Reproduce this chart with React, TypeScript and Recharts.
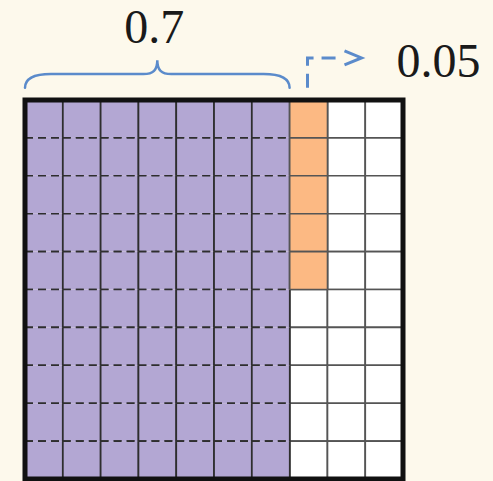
import React from "react";
import { BarChart, Bar, XAxis, YAxis, ReferenceArea } from "recharts";

// 10 x 10 hundredths grid: 0.7 (seven full columns) + 0.05 (five cells)
const columns = ["c1", "c2", "c3", "c4", "c5", "c6", "c7", "c8", "c9", "c10"];
const whiteCells = [0, 0, 0, 0, 0, 0, 0, 5, 10, 10];
const purpleCells = [10, 10, 10, 10, 10, 10, 10, 0, 0, 0];
const orangeCells = [0, 0, 0, 0, 0, 0, 0, 5, 0, 0];
const tenthsLabel = "0.7";
const hundredthsLabel = "0.05";

const data = columns.map((col, i) => ({
  col,
  white: whiteCells[i],
  purple: purpleCells[i],
  orange: orangeCells[i],
}));

const c = {
  bg: "#fdf9ec",
  purple: "#b3a7d3",
  orange: "#fcb983",
  white: "#ffffff",
  line: "#2e2e2e",
  lightLine: "#555555",
  blue: "#5b8bcb",
  text: "#1a1a1a",
};

const FONT = "'Liberation Serif', 'Times New Roman', serif";

function cellShape(kind: "white" | "purple" | "orange") {
  const fill = c[kind];
  return (props: any) => {
    const { x, y, width, height, payload } = props;
    const n = payload ? payload[kind] : 0;
    if (!n || !height) return <g />;
    const h = height / n;
    const dashed = kind === "purple";
    const lineColor = dashed ? c.line : c.lightLine;
    const cells = [];
    for (let i = 0; i < n; i++) {
      const cy = y + i * h;
      cells.push(
        <g key={i}>
          <rect x={x} y={cy} width={width} height={h} fill={fill} />
          <line x1={x} y1={cy} x2={x + width} y2={cy} stroke={lineColor} strokeWidth={1.6}
            strokeDasharray={dashed ? "8 5" : undefined} />
          <line x1={x} y1={cy + h} x2={x + width} y2={cy + h} stroke={lineColor} strokeWidth={1.6}
            strokeDasharray={dashed ? "8 5" : undefined} />
          <line x1={x} y1={cy} x2={x} y2={cy + h} stroke={lineColor} strokeWidth={1.8} />
          <line x1={x + width} y1={cy} x2={x + width} y2={cy + h} stroke={lineColor} strokeWidth={1.8} />
        </g>
      );
    }
    return <g>{cells}</g>;
  };
}

function BorderShape(props: any) {
  const { x, y, width, height } = props;
  return <rect x={x} y={y} width={width} height={height} fill="none" stroke="#111" strokeWidth={5} />;
}

function BraceShape(props: any) {
  const { x, y, width: w, height: h } = props;
  const bottom = y + h;
  const mid = y + h * 0.5;
  const mx = x + w / 2;
  const d = [
    `M ${x} ${bottom}`,
    `C ${x} ${bottom - 9}, ${x + 8} ${mid}, ${x + 26} ${mid}`,
    `L ${mx - 14} ${mid}`,
    `C ${mx - 4} ${mid}, ${mx} ${mid - 4}, ${mx} ${y}`,
    `C ${mx} ${mid - 4}, ${mx + 4} ${mid}, ${mx + 14} ${mid}`,
    `L ${x + w - 26} ${mid}`,
    `C ${x + w - 8} ${mid}, ${x + w} ${bottom - 9}, ${x + w} ${bottom}`,
  ].join(" ");
  return (
    <g>
      <path d={d} fill="none" stroke={c.blue} strokeWidth={2.5} strokeLinecap="round" />
      <text x={mx - 3} y={y - 17} textAnchor="middle" fontFamily={FONT} fontSize={48} fill={c.text}>
        {tenthsLabel}
      </text>
    </g>
  );
}

function ArrowShape(props: any) {
  const { x, y, width: w, height: h } = props;
  const cx = x + w / 2 - 1;
  const bottom = y + h;
  return (
    <g>
      <path d={`M ${cx} ${bottom} L ${cx} ${y} L ${cx + 35} ${y}`} fill="none" stroke={c.blue}
        strokeWidth={3} strokeDasharray="14 8" />
      <path d={`M ${cx + 37} ${y - 7} L ${cx + 54} ${y} L ${cx + 37} ${y + 7}`} fill="none"
        stroke={c.blue} strokeWidth={3} strokeLinejoin="miter" />
      <text x={cx + 89} y={bottom - 11} textAnchor="start" fontFamily={FONT} fontSize={48} fill={c.text}>
        {hundredthsLabel}
      </text>
    </g>
  );
}

export default function App() {
  return (
    <div style={{ position: "absolute", left: 0, top: 0, width: 493, height: 481, background: c.bg }}>
      <BarChart
        width={493}
        height={481}
        data={data}
        margin={{ top: 100, right: 90, bottom: 2, left: 25 }}
        barCategoryGap={0}
        barGap={0}
      >
        <XAxis dataKey="col" hide />
        <YAxis type="number" domain={[0, 10]} hide />
        <Bar dataKey="white" stackId="g" isAnimationActive={false} shape={cellShape("white")} />
        <Bar dataKey="purple" stackId="g" isAnimationActive={false} shape={cellShape("purple")} />
        <Bar dataKey="orange" stackId="g" isAnimationActive={false} shape={cellShape("orange")} />
        <ReferenceArea x1="c1" x2="c10" y1={0} y2={10} ifOverflow="visible" shape={BorderShape}
          {...({ zIndex: 1000 } as any)} />
        <ReferenceArea x1="c1" x2="c7" y1={10.32} y2={11.05} ifOverflow="visible" shape={BraceShape} />
        <ReferenceArea x1="c8" x2="c8" y1={10.32} y2={11.11} ifOverflow="visible" shape={ArrowShape} />
      </BarChart>
    </div>
  );
}
